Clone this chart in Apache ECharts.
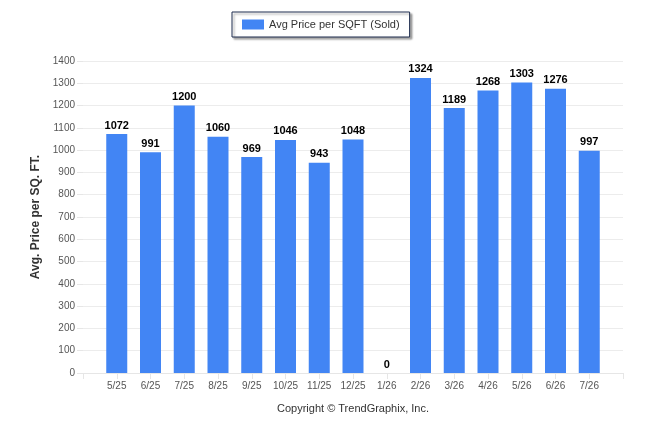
<!DOCTYPE html>
<html>
<head>
<meta charset="utf-8">
<script src="https://cdn.jsdelivr.net/npm/echarts@6/dist/echarts.min.js"></script>
<style>
  html, body { margin: 0; padding: 0; background: #fff; }
  #main { width: 646px; height: 434px; }
</style>
</head>
<body>
<div id="main"></div>
<script>
// months shown on the x axis (empty slots pad both ends)
var months = ['', '5/25', '6/25', '7/25', '8/25', '9/25', '10/25', '11/25', '12/25',
              '1/26', '2/26', '3/26', '4/26', '5/26', '6/26', '7/26', ''];
var avgPrice = [null, 1072, 991, 1200, 1060, 969, 1046, 943, 1048,
                0, 1324, 1189, 1268, 1303, 1276, 997, null];
var seriesName = 'Avg Price per SQFT (Sold)';
var yTitle = 'Avg. Price per SQ. FT.';
var footer = 'Copyright \u00A9 TrendGraphix, Inc.';

var myChart = echarts.init(document.getElementById('main'));

var option = {
    animation: false,
    textStyle: { fontFamily: 'Liberation Sans, Arial, sans-serif' },
    grid: { left: 83, right: 23, top: 61, bottom: 61 },
    legend: {
        data: [seriesName],
        left: 232, top: 12,
        width: 181, height: 26,
        padding: [7, 10, 7, 10],
        itemWidth: 22, itemHeight: 10, itemGap: 5,
        borderColor: '#1f2d4f', borderWidth: 1,
        backgroundColor: '#fff',
        shadowColor: 'rgba(0,0,0,0.35)', shadowBlur: 2,
        shadowOffsetX: 2, shadowOffsetY: 2,
        textStyle: { fontSize: 11, color: '#333' },
        icon: 'rect'
    },
    xAxis: {
        type: 'category',
        data: months,
        boundaryGap: false,
        axisLine: { lineStyle: { color: '#e6e6e6' } },
        axisTick: { interval: 0, length: 6, lineStyle: { color: '#e6e6e6' } },
        axisLabel: { interval: 0, fontSize: 10, color: '#555', margin: 8 }
    },
    yAxis: {
        type: 'value',
        min: 0, max: 1400, interval: 100,
        name: yTitle,
        nameLocation: 'middle',
        nameGap: 37,
        nameTextStyle: { fontSize: 12, fontWeight: 'bold', color: '#333' },
        axisLine: { show: false },
        axisTick: { show: true, length: 6, lineStyle: { color: '#e6e6e6' } },
        axisLabel: { fontSize: 10, color: '#555', margin: 8,
                     formatter: function (v) { return String(v); } },
        splitLine: { lineStyle: { color: '#ececec' } }
    },
    graphic: [{
        type: 'text',
        x: 353, y: 403,
        style: { text: footer, fontSize: 11, fill: '#333', align: 'center',
                 fontFamily: 'Liberation Sans, Arial, sans-serif' }
    }],
    series: [{
        name: seriesName,
        type: 'bar',
        data: avgPrice,
        barWidth: 21,
        itemStyle: { color: '#4285f4' },
        label: {
            show: true, position: 'top', distance: 3,
            fontSize: 11, fontWeight: 'bold', color: '#000'
        }
    }]
};

myChart.setOption(option);
</script>
</body>
</html>
